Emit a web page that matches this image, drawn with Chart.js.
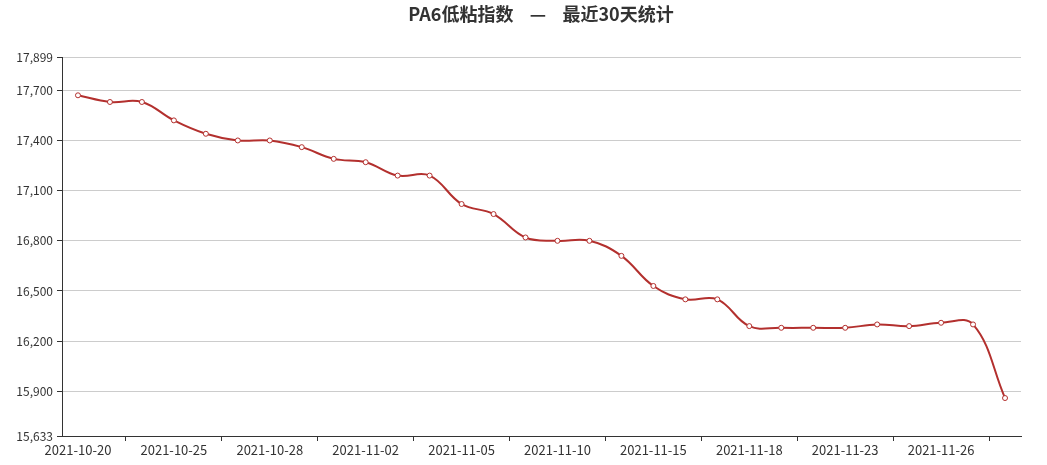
<!DOCTYPE html>
<html>
<head>
<meta charset="utf-8">
<script src="https://cdn.jsdelivr.net/npm/chart.js@4"></script>
<style>
  body { margin: 0; background: #fff; }
  #wrap { width: 1047px; height: 465px; }
</style>
</head>
<body>
<div id="wrap"><canvas id="line-chart" width="1047" height="465"></canvas></div>
<script>
// dates (trading days) and index values
var dates = [
  "2021-10-20", "2021-10-21", "2021-10-22", "2021-10-25", "2021-10-26", "2021-10-27",
  "2021-10-28", "2021-10-29", "2021-11-01", "2021-11-02", "2021-11-03", "2021-11-04",
  "2021-11-05", "2021-11-08", "2021-11-09", "2021-11-10", "2021-11-11", "2021-11-12",
  "2021-11-15", "2021-11-16", "2021-11-17", "2021-11-18", "2021-11-19", "2021-11-22",
  "2021-11-23", "2021-11-24", "2021-11-25", "2021-11-26", "2021-11-29", "2021-11-30"
];
var prices = [
  17670, 17630, 17630, 17520, 17440, 17400,
  17400, 17360, 17290, 17270, 17190, 17190,
  17020, 16960, 16820, 16800, 16800, 16710,
  16530, 16450, 16450, 16290, 16280, 16280,
  16280, 16300, 16290, 16310, 16300, 15860
];
var yTicks = [15633, 15900, 16200, 16500, 16800, 17100, 17400, 17700, 17899];
var labelEvery = 3; // only every 3rd date gets a label
var titleText = "PA6低粘指数    —    最近30天统计";

var lineColor = "#b3302e";
var fontFamily = "'Noto Sans CJK SC', 'Noto Sans', sans-serif";

Chart.defaults.font.family = fontFamily;
Chart.defaults.color = "#333";

// title sits a bit right of the canvas centre in the original, so draw it ourselves
var titlePlugin = {
  id: "offsetTitle",
  afterDraw: function (chart) {
    var ctx = chart.ctx;
    ctx.save();
    ctx.font = "bold 18px " + fontFamily;
    ctx.fillStyle = "#333";
    ctx.textAlign = "center";
    ctx.textBaseline = "middle";
    ctx.fillText(titleText, 541, 14);
    ctx.restore();
  }
};

var config = {
  type: "line",
  data: {
    labels: dates,
    datasets: [{
      label: "PA6低粘指数",
      data: prices,
      borderColor: lineColor,
      borderWidth: 2,
      tension: 0.4,
      pointRadius: 2.5,
      pointBorderWidth: 1,
      pointBackgroundColor: "#fff",
      pointBorderColor: lineColor,
      fill: false
    }]
  },
  options: {
    responsive: false,
    animation: false,
    layout: { padding: { left: 0, right: 26, top: 57, bottom: 0 } },
    plugins: {
      legend: { display: false },
      tooltip: { enabled: false },
      title: { display: false }
    },
    scales: {
      x: {
        offset: true,
        grid: {
          drawOnChartArea: false,
          offset: true,
          tickLength: 5,
          tickColor: function (ctx) {
            return ctx.index % labelEvery === 2 ? "#333" : "rgba(0,0,0,0)";
          }
        },
        border: { color: "#333", width: 1 },
        ticks: {
          autoSkip: false,
          maxRotation: 0,
          padding: 1,
          color: "#333",
          font: { size: 13 },
          callback: function (val, i) {
            return i % labelEvery === 0 ? dates[i] : "";
          }
        },
        afterFit: function (scale) { scale.height = 29; }
      },
      y: {
        min: yTicks[0],
        max: yTicks[yTicks.length - 1],
        afterBuildTicks: function (scale) {
          scale.ticks = yTicks.map(function (v) { return { value: v }; });
        },
        grid: {
          color: "#ccc",
          tickColor: "#333",
          tickLength: 5
        },
        border: { color: "#333", width: 1 },
        ticks: {
          padding: 4,
          color: "#333",
          font: { size: 12 }
        },
        afterFit: function (scale) { scale.width = 62; }
      }
    }
  },
  plugins: [titlePlugin]
};

var lineChart = new Chart(document.getElementById("line-chart").getContext("2d"), config);
</script>
</body>
</html>
